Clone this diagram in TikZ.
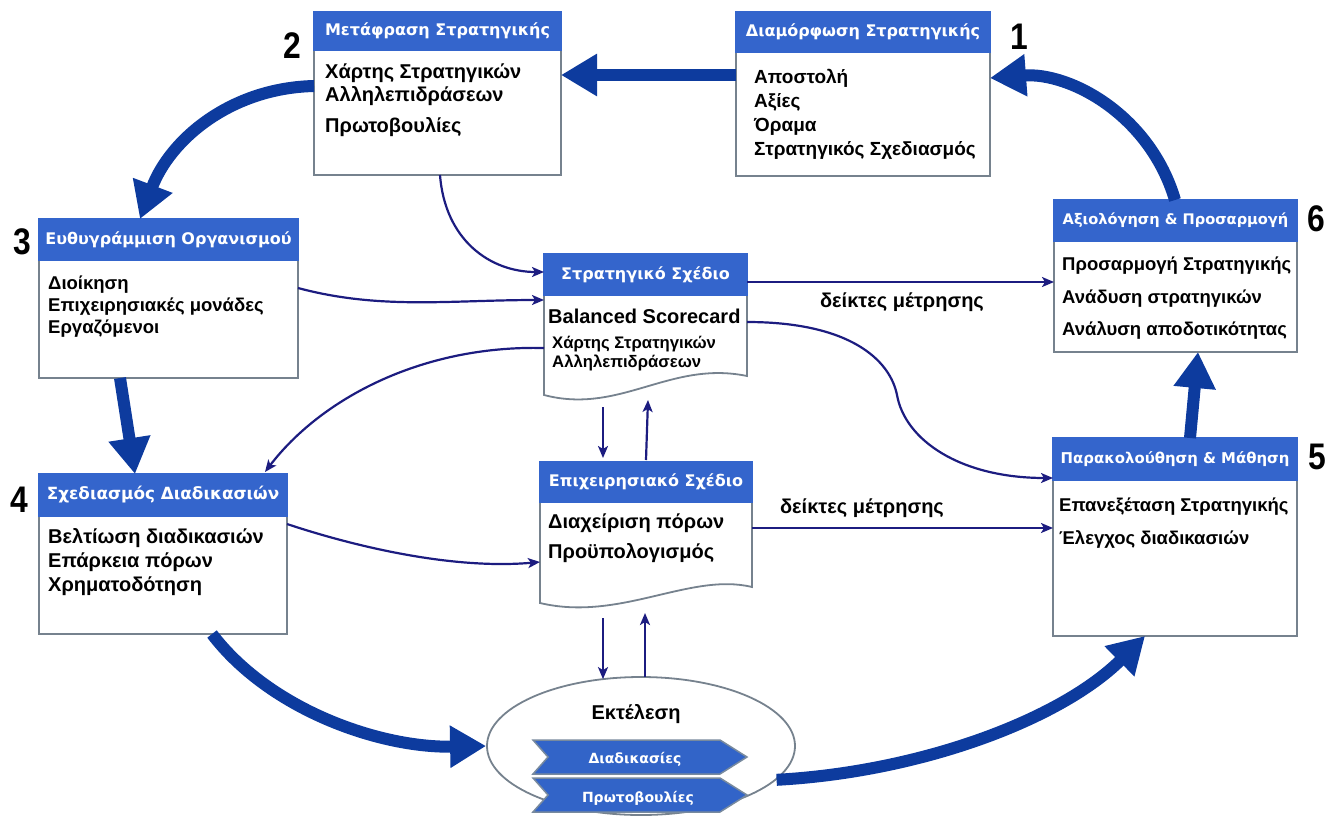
\documentclass[tikz,border=0pt]{standalone}
\usepackage{fontspec}
\setmainfont{Liberation Sans}
\newfontfamily\hfont{DejaVu Sans}
\newfontfamily\numfont[FakeStretch=0.86]{Liberation Sans}
\usetikzlibrary{arrows.meta,shapes.geometric,calc}
\definecolor{hblue}{RGB}{52,101,204}
\definecolor{boxgray}{RGB}{118,130,142}
\definecolor{tblue}{RGB}{13,59,158}
\definecolor{nblue}{RGB}{28,28,128}
\definecolor{cblue}{RGB}{50,100,200}
\definecolor{cgray}{RGB}{120,138,158}
\begin{document}
\begin{tikzpicture}[x=1pt,y=-1pt,
  bodybox/.style={draw=boxgray,line width=1.8pt,fill=white,inner sep=0pt,outer sep=0pt,anchor=north west},
  headbox/.style={draw=hblue,line width=1.8pt,fill=hblue,text=white,font=\hfont\bfseries\fontsize{16}{19}\selectfont,inner sep=0pt,outer sep=0pt,anchor=north west},
  bt/.style={font=\bfseries\fontsize{18.5}{21}\selectfont,anchor=base west,inner sep=0pt},
  btl/.style={font=\bfseries\fontsize{20}{23}\selectfont,anchor=base west,inner sep=0pt},
  st/.style={font=\bfseries\fontsize{16.7}{19}\selectfont,anchor=base west,inner sep=0pt},
  num/.style={font=\numfont\bfseries\fontsize{37}{40}\selectfont,inner sep=0pt},
  bigarrow/.style={draw=tblue,line width=12pt,-{Triangle[length=36pt,width=40pt]}},
  conn/.style={draw=nblue,line width=2.2pt,-{Stealth[length=12pt,width=10pt,inset=3pt]}},
  lab/.style={font=\bfseries\fontsize{20}{23}\selectfont,inner sep=0pt,anchor=base},
  chev/.style={fill=cblue,draw=cgray,line width=1.5pt},
  chevt/.style={text=white,font=\hfont\bfseries\fontsize{14}{16}\selectfont,inner sep=0pt,anchor=base},
  docline/.style={draw=boxgray,line width=1.8pt,fill=white}
]
\useasboundingbox (0,0) rectangle (1331,839);

% ---------- boxes ----------
\node[bodybox,minimum width=254,minimum height=164] (b1) at (736,12) {};
\node[headbox,minimum width=254,minimum height=40] (h1) at (736,12) {Διαμόρφωση Στρατηγικής};
\node[bodybox,minimum width=247,minimum height=163] (b2) at (314,12) {};
\node[headbox,minimum width=247,minimum height=38] (h2) at (314,12) {Μετάφραση Στρατηγικής};
\node[bodybox,minimum width=259,minimum height=159] (b3) at (39,219) {};
\node[headbox,minimum width=259,minimum height=41] (h3) at (39,219) {Ευθυγράμμιση Οργανισμού};
\node[bodybox,minimum width=248,minimum height=160] (b4) at (39,474) {};
\node[headbox,minimum width=248,minimum height=42,font=\hfont\bfseries\fontsize{16.8}{19}\selectfont] (h4) at (39,474) {Σχεδιασμός Διαδικασιών};
\node[bodybox,minimum width=244,minimum height=198] (b5) at (1053,438) {};
\node[headbox,minimum width=244,minimum height=42,font=\hfont\bfseries\fontsize{14.9}{18}\selectfont] (h5) at (1053,438) {Παρακολούθηση \& Μάθηση};
\node[bodybox,minimum width=243,minimum height=152] (b6) at (1054,200) {};
\node[headbox,minimum width=243,minimum height=41,font=\hfont\bfseries\fontsize{14.6}{18}\selectfont] (h6) at (1054,200) {Αξιολόγηση \& Προσαρμογή};

% document shapes
\node[inner sep=0pt,outer sep=0pt,minimum width=203,minimum height=151,anchor=north west] (sp) at (544,254) {};
\path[docline] (544,254) -- (747,254) -- (747,376) .. controls (670,360) and (620,415) .. (544,395) -- cycle;
\node[headbox,minimum width=203,minimum height=41] (hsp) at (544,254) {Στρατηγικό Σχέδιο};
\node[inner sep=0pt,outer sep=0pt,minimum width=212,minimum height=153,anchor=north west] (op) at (540,462) {};
\path[docline] (540,462) -- (752,462) -- (752,587) .. controls (690,572) and (620,622) .. (540,603) -- cycle;
\node[headbox,minimum width=212,minimum height=40] (hop) at (540,462) {Επιχειρησιακό Σχέδιο};

% ellipse
\node[ellipse,draw=boxgray,line width=1.8pt,fill=white,minimum width=308,minimum height=138,inner sep=0pt] (ex) at (641,746) {};
\node[lab] (extxt) at (636,719) {Εκτέλεση};
\path[chev] (533,740) -- (720,740) -- (747,757) -- (720,774) -- (533,774) -- (548,757) -- cycle;
\node[chevt] (ch1) at (635,763) {Διαδικασίες};
\path[chev] (533,778) -- (720,778) -- (747,795) -- (720,812) -- (533,812) -- (548,795) -- cycle;
\node[chevt] (ch2) at (638,802) {Πρωτοβουλίες};

% ---------- texts ----------
\node[bt,font=\bfseries\fontsize{19}{22}\selectfont] (t1a) at (754,83) {Αποστολή};
\node[bt,font=\bfseries\fontsize{19}{22}\selectfont] (t1b) at (754,107) {Αξίες};
\node[bt,font=\bfseries\fontsize{19}{22}\selectfont] (t1c) at (754,131) {Όραμα};
\node[bt,font=\bfseries\fontsize{19}{22}\selectfont] (t1d) at (754,155) {Στρατηγικός Σχεδιασμός};
\node[btl] (t2a) at (325,78) {Χάρτης Στρατηγικών};
\node[btl] (t2b) at (325,101) {Αλληλεπιδράσεων};
\node[btl] (t2c) at (325,132) {Πρωτοβουλίες};
\node[bt] (t3a) at (48,289) {Διοίκηση};
\node[bt] (t3b) at (48,311) {Επιχειρησιακές μονάδες};
\node[bt] (t3c) at (48,333) {Εργαζόμενοι};
\node[btl] (t4a) at (48,543) {Βελτίωση διαδικασιών};
\node[btl] (t4b) at (48,567) {Επάρκεια πόρων};
\node[btl] (t4c) at (48,591) {Χρηματοδότηση};
\node[bt] (t6a) at (1062,270) {Προσαρμογή Στρατηγικής};
\node[bt] (t6b) at (1062,303) {Ανάδυση στρατηγικών};
\node[bt] (t6c) at (1062,335) {Ανάλυση αποδοτικότητας};
\node[bt] (t5a) at (1059,511) {Επανεξέταση Στρατηγικής};
\node[bt] (t5b) at (1059,544) {Έλεγχος διαδικασιών};
\node[btl] (tsa) at (548,323) {Balanced Scorecard};
\node[st] (tsb) at (552,348) {Χάρτης Στρατηγικών};
\node[st] (tsc) at (552,367) {Αλληλεπιδράσεων};
\node[btl] (toa) at (548,528) {Διαχείριση πόρων};
\node[btl] (tob) at (548,558) {Προϋπολογισμός};

% numbers
\node[num] (n1) at (1019,37) {1};
\node[num] (n2) at (292,46) {2};
\node[num] (n3) at (22,242) {3};
\node[num] (n4) at (19,500) {4};
\node[num] (n5) at (1317,457) {5};
\node[num] (n6) at (1316,219) {6};

% ---------- thick cycle arrows ----------
\draw[bigarrow] ($(b1.north west)+(0,63)$) -- ($(b2.north east)+(0,63)$);
\draw[bigarrow] ($(b2.north west)+(0,74)$) .. controls (230,88) and (170,140) .. ($(b3.north west)+(101,0)$);
\draw[bigarrow] ($(b3.south west)+(81,0)$) -- ($(b4.north west)+(96,0)$);
\draw[bigarrow] ($(b4.south west)+(173,0)$) .. controls (270,710) and (380,748) .. (ex.west);
\draw[bigarrow] (ex.-14) .. controls (920,772) and (1060,720) .. ($(b5.south west)+(92,0)$);
\draw[bigarrow] ($(b5.north west)+(137,0)$) -- ($(b6.south west)+(144,0)$);
\draw[bigarrow] ($(b6.north west)+(121,0)$) .. controls (1150,115) and (1070,72) .. ($(b1.north east)+(0,66)$);

% ---------- thin connectors ----------
\draw[conn] ($(b2.south west)+(126,0)$) .. controls (445,240) and (490,272) .. ($(sp.north west)+(0,18)$);
\draw[conn] ($(b3.north east)+(0,69)$) .. controls (380,310) and (450,300) .. ($(sp.north west)+(0,46)$);
\draw[conn] ($(sp.north west)+(0,94)$) .. controls (420,345) and (320,400) .. ($(b4.north east)+(-22,-2)$);
\draw[conn] ($(b4.north east)+(0,50)$) .. controls (350,545) and (450,570) .. ($(op.north west)+(0,100)$);
\draw[conn] ($(sp.north east)+(0,28)$) -- ($(b6.north west)+(0,82)$);
\node[lab] (l1) at (902,307) {δείκτες μέτρησης};
\coordinate (mid) at (897,395);
\draw[conn] ($(sp.north east)+(0,68)$) .. controls (850,322) and (890,360) .. (mid) .. controls (905,440) and (960,478) .. ($(b5.north west)+(0,40)$);
\draw[conn] ($(op.north east)+(0,66)$) -- ($(b5.north west)+(0,90)$);
\node[lab] (l2) at (862,513) {δείκτες μέτρησης};
\draw[conn] ($(sp.south west)+(59,2)$) -- ($(op.north west)+(63,-4)$);
\draw[conn] ($(op.north west)+(106,-2)$) -- ($(sp.south west)+(104,-5)$);
\draw[conn] ($(op.south west)+(63,3)$) -- ($(ex.north)+(-38,3)$);
\draw[conn] ($(ex.north)+(4,1)$) -- ($(op.south west)+(105,-2)$);
\end{tikzpicture}
\end{document}
